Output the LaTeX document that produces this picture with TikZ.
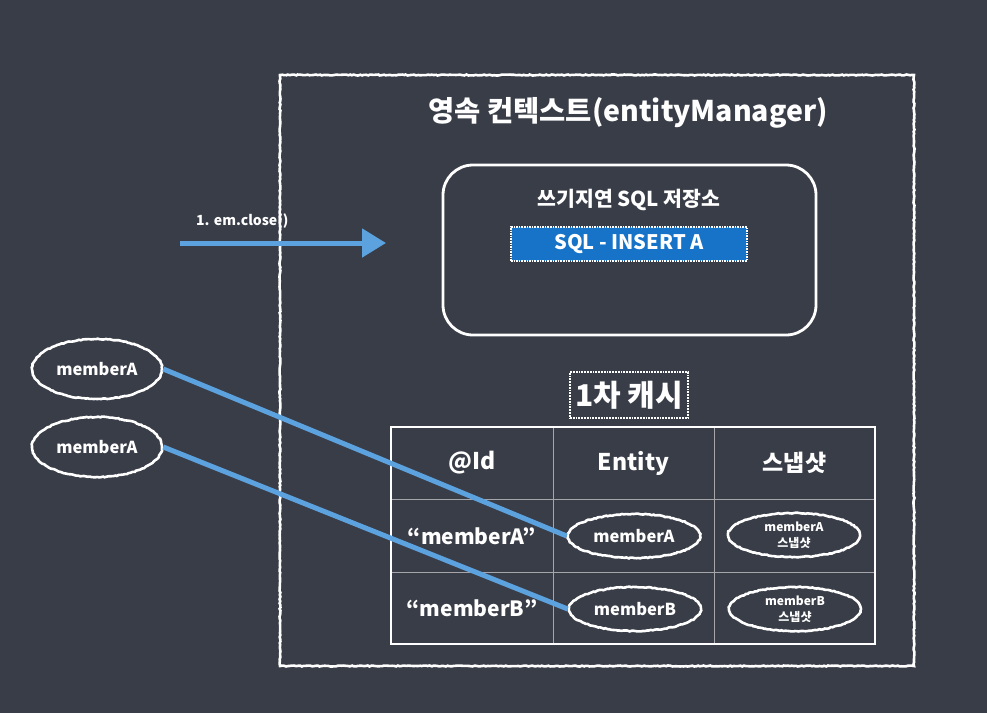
\documentclass[tikz,border=0pt]{standalone}
\usepackage{fontspec}
\setmainfont{Noto Sans CJK KR}
\usetikzlibrary{arrows.meta,shapes.geometric,decorations.pathmorphing}
\definecolor{bg}{RGB}{57,61,72}
\definecolor{chalkblue}{RGB}{92,162,222}
\definecolor{sqlblue}{RGB}{22,115,200}
\definecolor{gridgray}{RGB}{165,165,170}
\tikzset{
  chalk/.style={draw=white, line width=2.6pt, decorate, decoration={random steps, segment length=2pt, amplitude=0.5pt}},
  txt/.style={text=white, inner sep=0pt},
  memb/.style={ellipse, chalk, text=white, inner sep=0pt},
  blueline/.style={draw=chalkblue, line width=5pt},
}
\begin{document}
\begin{tikzpicture}[x=1pt,y=-1pt]
\fill[bg] (0,0) rectangle (987,713);
\useasboundingbox (0,0) rectangle (987,713);

% outer container
\node[chalk, rectangle, minimum width=634, minimum height=591, inner sep=0pt] (ctx) at (597,370.5) {};
\node[txt, font=\bfseries\fontsize{28.5}{31}\selectfont] (title) at (628,113) {영속 컨텍스트(entityManager)};

% write-behind SQL store
\node[draw=white, line width=2.8pt, rectangle, rounded corners=30pt, minimum width=373, minimum height=170, inner sep=0pt] (store) at (629.5,250) {};
\node[txt, font=\bfseries\fontsize{20.5}{23}\selectfont] (storetitle) at (629,200) {쓰기지연 SQL 저장소};
\node[rectangle, fill=sqlblue, draw=white, line width=1.6pt, densely dotted, minimum width=236, minimum height=34, inner sep=0pt, text=white, font=\bfseries\fontsize{20}{22}\selectfont] (sql) at (629,244) {SQL - INSERT A};

% em.close arrow
\coordinate (as) at (180,243);
\coordinate (ae) at (386,243);
\draw[blueline, -{Triangle[length=24pt,width=28pt]}] (as) -- (ae);
\node[txt, font=\bfseries\fontsize{14}{16}\selectfont, anchor=south west] (close) at (196,229) {1. em.close()};

% left member ellipses
\node[memb, minimum width=130, minimum height=60, font=\bfseries\fontsize{16.5}{18}\selectfont] (la) at (97,369) {memberA};
\node[memb, minimum width=130, minimum height=60, font=\bfseries\fontsize{16.5}{18}\selectfont] (lb) at (97,447) {memberA};

% 1st-level cache title
\node[draw=white, line width=1.8pt, densely dotted, minimum width=118, minimum height=46, inner sep=0pt, text=white, font=\bfseries\fontsize{30}{32}\selectfont] (cache) at (629,395) {1차 캐시};

% table
\draw[gridgray, line width=0.8pt] (553,427) -- (553,644) (714,427) -- (714,644) (391,499) -- (875,499) (391,572) -- (875,572);
\node[draw=white, line width=2pt, rectangle, minimum width=484, minimum height=217, inner sep=0pt] (tbl) at (633,535.5) {};

\node[txt, font=\bfseries\fontsize{23}{26}\selectfont] (hid) at (472,463) {@Id};
\node[txt, font=\bfseries\fontsize{23}{26}\selectfont] (hent) at (633.5,463) {Entity};
\node[txt, font=\bfseries\fontsize{23}{26}\selectfont] (hsnap) at (794.5,463) {스냅샷};

\node[txt, font=\bfseries\fontsize{21}{24}\selectfont] (ka) at (472,536) {“memberA”};
\node[txt, font=\bfseries\fontsize{21}{24}\selectfont] (kb) at (472,608) {“memberB”};

\node[memb, minimum width=132, minimum height=44, font=\bfseries\fontsize{16.5}{18}\selectfont] (ea) at (634,536) {memberA};
\node[memb, minimum width=132, minimum height=44, font=\bfseries\fontsize{16.5}{18}\selectfont] (eb) at (635,609) {memberB};

\node[memb, minimum width=132, minimum height=44, align=center, font=\bfseries\fontsize{12}{15.5}\selectfont] (sa) at (794,535) {memberA\\스냅샷};
\node[memb, minimum width=132, minimum height=44, align=center, font=\bfseries\fontsize{12}{15.5}\selectfont] (sb) at (795,609) {memberB\\스냅샷};

% links
\draw[blueline] (la.east) -- (ea.west);
\draw[blueline] (lb.east) -- (eb.west);
\end{tikzpicture}
\end{document}
